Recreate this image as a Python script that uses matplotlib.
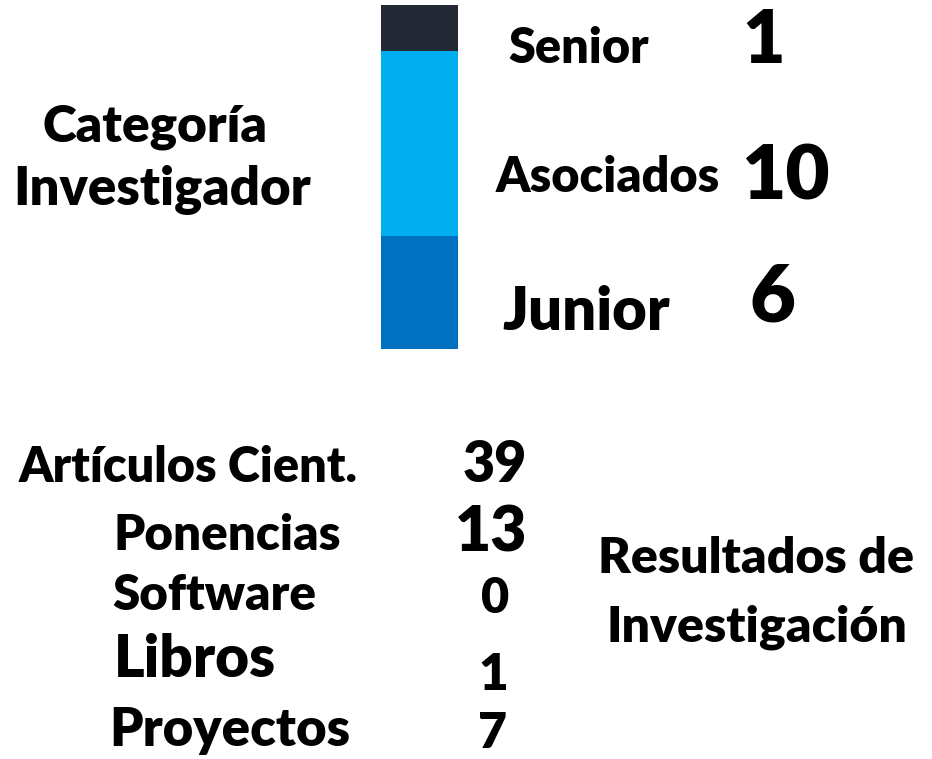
import matplotlib
matplotlib.use("Agg")
import matplotlib.pyplot as plt

# researcher categories (top to bottom in the bar)
categorias = ["Senior", "Asociados", "Junior"]
investigadores = [1, 10, 6]
# share of the bar each segment takes, as drawn (%)
bar_share = [13.4, 53.8, 32.8]
bar_colors = ["#222834", "#00AEEF", "#0070C0"]

# research output
resultados = ["Artículos Cient.", "Ponencias", "Software", "Libros", "Proyectos"]
cantidades = [39, 13, 0, 1, 7]

plt.rcParams["font.family"] = ["Lato", "DejaVu Sans"]
plt.rcParams["font.weight"] = "heavy"

W, H = 932, 759
fig = plt.figure(figsize=(W / 100, H / 100), dpi=100)
fig.patch.set_facecolor("white")

# overlay in pixel coords for the text
ax = fig.add_axes([0, 0, 1, 1])
ax.set_xlim(0, W)
ax.set_ylim(H, 0)
ax.axis("off")

# stacked bar
bx0, bx1, by0, by1 = 381, 458, 5, 349
axb = fig.add_axes([bx0 / W, 1 - by1 / H, (bx1 - bx0) / W, (by1 - by0) / H])
bottom = 0
for share, c in zip(bar_share[::-1], bar_colors[::-1]):
    axb.bar(0, share, width=1.0, bottom=bottom, color=c, linewidth=0)
    bottom += share
axb.set_xlim(-0.5, 0.5)
axb.set_ylim(0, sum(bar_share))
axb.axis("off")


def txt(s, x, y, size):
    ax.text(x, y, s, ha="center", va="baseline", fontsize=size,
            fontweight="heavy", color="black")


txt("Categoría", 155, 142, 37)
txt("Investigador", 162, 205, 38)

# category labels and counts
cat_pos = [(579, 63, 35), (608, 192, 35), (586, 330, 43)]
num_pos = [(764, 63, 53), (785, 200, 55), (772, 322, 57)]
for name, n, (lx, ly, ls), (nx, ny, ns) in zip(categorias, investigadores, cat_pos, num_pos):
    txt(name, lx, ly, ls)
    txt(str(n), nx, ny, ns)

# results list
res_pos = [(188, 482, 35), (227, 550, 35.5), (214, 610, 35.5), (195, 677, 42), (230, 746, 38)]
val_pos = [(495, 482, 40), (491, 552, 45), (495, 613, 35), (493, 690, 37), (492, 748, 36)]
for name, v, (lx, ly, ls), (vx, vy, vs) in zip(resultados, cantidades, res_pos, val_pos):
    txt(name, lx, ly, ls)
    txt(str(v), vx, vy, vs)

txt("Resultados de", 756, 573, 36)
txt("Investigación", 757, 642, 36)

fig.savefig("out.png", dpi=100, facecolor="white")
